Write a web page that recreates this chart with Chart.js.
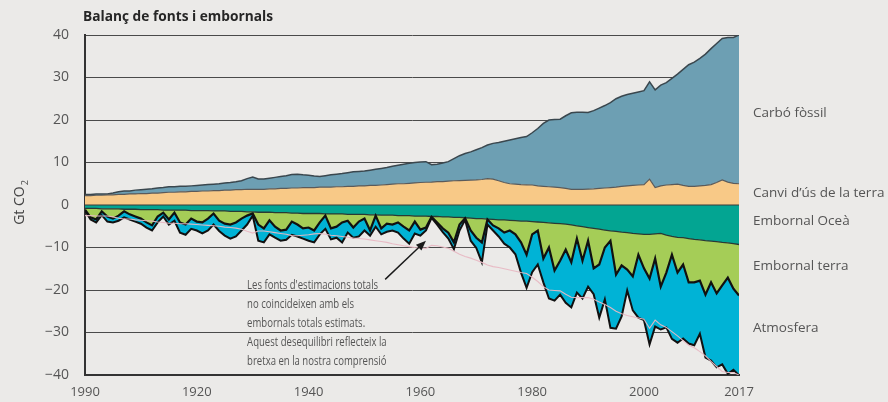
<!DOCTYPE html>
<html>
<head>
<meta charset="utf-8">
<script src="https://cdn.jsdelivr.net/npm/chart.js@4"></script>
<style>
  html, body { margin: 0; padding: 0; background: #ebeae8; }
  canvas { display: block; }
</style>
</head>
<body>
<canvas id="chart" width="888" height="402"></canvas>
<script>
// years 1900..2017, one value per year
const years = [];
for (let yr = 1900; yr <= 2017; yr++) years.push(yr);

const xTicks = [1900, 1920, 1940, 1960, 1980, 2000, 2017];
const xTickLabels = ['1990', '1920', '1940', '1960', '1980', '2000', '2017'];

// Gt CO2 per year
const fossil = [
  0.3, 0.3, 0.3, 0.3, 0.2, 0.4, 0.6, 0.8, 0.7, 0.9,
  0.9, 1.0, 1.0, 1.2, 1.2, 1.3, 1.3, 1.3, 1.3, 1.3,
  1.4, 1.4, 1.5, 1.5, 1.6, 1.7, 1.8, 1.85, 2.1, 2.5,
  2.9, 2.4, 2.4, 2.5, 2.7, 2.8, 3.0, 3.2, 3.25, 3.0,
  2.9, 2.7, 2.5, 2.7, 2.9, 2.95, 3.1, 3.2, 3.4, 3.4,
  3.5, 3.6, 3.8, 3.9, 4.0, 4.2, 4.35, 4.6, 4.7, 4.8,
  4.8, 4.85, 4.1, 4.1, 4.4, 4.6, 5.2, 5.85, 6.3, 6.65,
  7.1, 7.5, 7.9, 8.4, 9.0, 9.7, 10.3, 10.7, 11.1, 11.35,
  12.3, 13.5, 14.8, 15.7, 15.9, 16.1, 17.1, 18.0, 18.1, 18.1,
  18.0, 18.4, 18.9, 19.4, 20.0, 20.8, 21.2, 21.5, 21.7, 21.9,
  22.1, 22.9, 23.0, 23.7, 24.1, 25.0, 25.9, 27.3, 28.6, 29.2,
  30.0, 30.9, 32.0, 32.7, 33.3, 34.0, 34.3, 35.0
];
const landUse = [
  2.2, 2.2, 2.3, 2.3, 2.4, 2.4, 2.5, 2.5, 2.6, 2.6,
  2.7, 2.7, 2.8, 2.8, 2.9, 3.0, 3.0, 3.1, 3.1, 3.2,
  3.2, 3.3, 3.3, 3.4, 3.4, 3.5, 3.5, 3.6, 3.6, 3.7,
  3.7, 3.7, 3.7, 3.8, 3.8, 3.9, 3.9, 4.0, 4.0, 4.1,
  4.1, 4.1, 4.2, 4.2, 4.2, 4.3, 4.3, 4.4, 4.4, 4.5,
  4.5, 4.6, 4.6, 4.7, 4.8, 4.9, 5.0, 5.0, 5.1, 5.2,
  5.3, 5.35, 5.4, 5.5, 5.5, 5.6, 5.7, 5.75, 5.8, 5.85,
  5.9, 6.0, 6.2, 6.1, 5.7, 5.3, 5.0, 4.9, 4.8, 4.75,
  4.7, 4.5, 4.4, 4.3, 4.2, 4.1, 3.9, 3.7, 3.7, 3.7,
  3.75, 3.8, 3.9, 4.0, 4.1, 4.2, 4.4, 4.5, 4.6, 4.7,
  4.8, 6.1, 4.1, 4.5, 4.7, 4.8, 4.9, 4.6, 4.4, 4.4,
  4.5, 4.6, 4.8, 5.3, 5.9, 5.4, 5.1, 5.0
];
const oceanSink = [
  0.8, 0.8, 0.8, 0.9, 0.9, 0.9, 0.9, 1.0, 1.0, 1.0,
  1.1, 1.1, 1.1, 1.1, 1.2, 1.2, 1.2, 1.2, 1.2, 1.3,
  1.3, 1.3, 1.3, 1.4, 1.4, 1.4, 1.5, 1.5, 1.5, 1.6,
  1.6, 1.7, 1.7, 1.7, 1.8, 1.8, 1.8, 1.9, 1.9, 2.0,
  2.0, 2.0, 2.0, 2.1, 2.1, 2.1, 2.1, 2.2, 2.2, 2.2,
  2.2, 2.3, 2.3, 2.4, 2.4, 2.4, 2.5, 2.5, 2.5, 2.6,
  2.6, 2.6, 2.7, 2.7, 2.8, 2.8, 2.9, 2.9, 3.0, 3.1,
  3.2, 3.2, 3.3, 3.4, 3.5, 3.5, 3.6, 3.7, 3.8, 3.8,
  3.9, 4.0, 4.1, 4.2, 4.3, 4.4, 4.5, 4.7, 4.9, 5.1,
  5.3, 5.5, 5.7, 5.9, 6.1, 6.2, 6.4, 6.5, 6.7, 6.8,
  6.9, 6.9, 6.8, 6.7, 7.1, 7.4, 7.6, 7.7, 7.9, 8.1,
  8.2, 8.4, 8.5, 8.6, 8.8, 8.9, 9.1, 9.3
];
const landSink = [
  0.3, 2.1, 2.6, 0.6, 1.8, 2.3, 1.6, 0.5, 1.2, 1.7,
  2.1, 3.0, 3.7, 1.6, 0.6, 2.2, 0.6, 2.9, 3.4, 1.9,
  2.6, 2.8, 1.9, 0.6, 2.3, 3.0, 3.1, 2.6, 1.7, 0.9,
  0.4, 2.9, 3.8, 1.9, 3.3, 4.2, 4.0, 2.0, 2.7, 3.5,
  3.3, 4.0, 2.1, 0.4, 3.4, 3.0, 2.0, 1.5, 3.1, 1.7,
  1.0, 3.7, 0.2, 3.1, 2.0, 2.2, 1.6, 2.6, 3.5, 1.3,
  3.2, 2.7, 0.1, 1.4, 2.7, 3.7, 5.9, 1.7, 0.1, 2.9,
  4.5, 5.6, 0.1, 1.4, 2.0, 3.0, 2.4, 3.2, 5.0, 7.9,
  3.0, 2.0, 8.5, 5.8, 11.1, 8.7, 6.0, 8.8, 3.0, 8.0,
  3.1, 9.4, 8.3, 4.1, 2.3, 10.2, 7.8, 8.7, 10.1, 4.9,
  8.0, 10.4, 5.8, 12.5, 8.8, 4.3, 8.3, 6.3, 10.3, 10.1,
  9.6, 12.7, 9.7, 12.2, 10.1, 8.2, 10.6, 12.0
];
const atmosphere = [
  0.2, 0.5, 0.7, 0.9, 1.2, 0.9, 1.2, 1.4, 1.2, 1.2,
  1.2, 1.2, 1.2, 1.4, 0.9, 1.2, 1.9, 2.4, 2.4, 2.4,
  2.1, 2.6, 2.8, 2.6, 2.4, 2.8, 3.3, 3.3, 2.8, 2.1,
  0.5, 3.8, 3.3, 3.3, 2.6, 2.4, 2.4, 3.1, 2.8, 2.4,
  3.1, 2.8, 2.8, 3.1, 2.6, 2.6, 4.7, 2.8, 2.4, 3.5,
  2.8, 1.2, 2.6, 1.4, 1.9, 1.4, 2.4, 2.8, 3.1, 2.8,
  1.4, 0.7, 0.2, 0.5, 0.9, 1.4, 1.6, 1.4, 0.4, 2.4,
  2.4, 4.7, 1.2, 1.2, 1.9, 2.6, 4.0, 4.7, 7.1, 7.8,
  8.9, 8.0, 5.6, 12.0, 7.1, 8.0, 12.5, 10.6, 12.7, 8.9,
  10.8, 6.1, 12.5, 12.2, 20.5, 12.7, 12.0, 4.9, 8.0, 14.8,
  12.2, 15.5, 16.0, 10.1, 12.9, 19.8, 16.5, 17.4, 14.4, 14.8,
  12.5, 14.8, 18.4, 17.4, 18.6, 22.6, 19.1, 18.8
];

const seriesNames = ['Carbó fòssil', 'Canvi d’ús de la terra', 'Embornal Oceà', 'Embornal terra', 'Atmosfera'];
const chartTitle = 'Balanç de fonts i embornals';
const noteLines = [
  'Les fonts d\'estimacions totals',
  'no coincideixen amb els',
  'embornals totals estimats.',
  'Aquest desequilibri reflecteix la',
  'bretxa en la nostra comprensió'
];

// stacked boundaries: sources above zero, sinks below
const lucTop = landUse.slice();
const fossilTop = landUse.map((v, i) => v + fossil[i]);
const oceanBot = oceanSink.map(v => -v);
const landBot = oceanSink.map((v, i) => -(v + landSink[i]));
const atmBot = oceanSink.map((v, i) => -(v + landSink[i] + atmosphere[i]));
const sourcesMirror = fossilTop.map(v => -v);
const zeroLine = years.map(() => 0);

const pts = arr => arr.map((v, i) => ({ x: years[i], y: v }));

const BG = '#ebeae8';
const TXT = '#555';

const decor = {
  id: 'decor',
  beforeDraw(chart) {
    const ctx = chart.ctx;
    ctx.save();
    ctx.fillStyle = BG;
    ctx.fillRect(0, 0, chart.width, chart.height);
    ctx.restore();
  },
  afterDraw(chart) {
    const { ctx, chartArea: a } = chart;
    const x = chart.scales.x, y = chart.scales.y;
    ctx.save();

    // title
    ctx.fillStyle = '#262626';
    ctx.font = 'bold 14.5px "Open Sans"';
    ctx.textAlign = 'left';
    ctx.textBaseline = 'middle';
    ctx.fillText(chartTitle, a.left - 2, 17, 190);

    // axis title  Gt CO2
    ctx.save();
    ctx.translate(20, 203);
    ctx.rotate(-Math.PI / 2);
    ctx.fillStyle = '#444';
    ctx.font = '14px "Open Sans"';
    const main = 'Gt CO';
    const w1 = ctx.measureText(main).width;
    ctx.font = '9px "Open Sans"';
    const w2 = ctx.measureText('2').width;
    ctx.font = '14px "Open Sans"';
    ctx.textAlign = 'left';
    ctx.fillText(main, -(w1 + w2) / 2, 0);
    ctx.font = '9px "Open Sans"';
    ctx.fillText('2', -(w1 + w2) / 2 + w1 + 1, 5);
    ctx.restore();

    // series labels at right
    const labelVals = [21.6, 2.8, -3.8, -14.4, -29];
    ctx.fillStyle = TXT;
    ctx.font = '13.5px "Open Sans"';
    ctx.textAlign = 'left';
    ctx.textBaseline = 'middle';
    seriesNames.forEach((s, i) => {
      ctx.fillText(s, a.right + 14, y.getPixelForValue(labelVals[i]), 134);
    });

    // note (condensed)
    ctx.font = '13px "Open Sans"';
    const sx = 131 / ctx.measureText(noteLines[0]).width;
    const nx = x.getPixelForValue(1929);
    const ny = y.getPixelForValue(-18.9);
    noteLines.forEach((line, i) => {
      ctx.save();
      ctx.translate(nx, ny + i * 18.9);
      ctx.scale(sx, 1);
      ctx.fillText(line, 0, 0);
      ctx.restore();
    });

    // arrow
    const x0 = x.getPixelForValue(1953.7), y0 = y.getPixelForValue(-17.5);
    const x1 = x.getPixelForValue(1961.0), y1 = y.getPixelForValue(-8.4);
    const ang = Math.atan2(y1 - y0, x1 - x0);
    ctx.strokeStyle = '#1a1a1a';
    ctx.fillStyle = '#1a1a1a';
    ctx.lineWidth = 1.4;
    ctx.beginPath();
    ctx.moveTo(x0, y0);
    ctx.lineTo(x1 - 6 * Math.cos(ang), y1 - 6 * Math.sin(ang));
    ctx.stroke();
    ctx.beginPath();
    ctx.moveTo(x1, y1);
    ctx.lineTo(x1 - 10 * Math.cos(ang) + 4 * Math.sin(ang), y1 - 10 * Math.sin(ang) - 4 * Math.cos(ang));
    ctx.lineTo(x1 - 10 * Math.cos(ang) - 4 * Math.sin(ang), y1 - 10 * Math.sin(ang) + 4 * Math.cos(ang));
    ctx.closePath();
    ctx.fill();

    ctx.restore();
  }
};

const line = (data, fill, bg, border, width, order) => ({
  data: pts(data), fill, backgroundColor: bg, borderColor: border,
  borderWidth: width, pointRadius: 0, tension: 0, order
});

new Chart(document.getElementById('chart'), {
  type: 'line',
  data: {
    datasets: [
      line(lucTop, 'origin', '#f8c987', '#5a5a5a', 1.2, 5),          // 0
      line(fossilTop, 0, '#6d9fb3', '#3a474e', 1.5, 5),              // 1
      line(oceanBot, 'origin', '#03a592', '#2a3a35', 1.3, 5),        // 2
      line(landBot, 2, '#a5cd57', '#111', 2.2, 4),                   // 3
      line(atmBot, 3, '#00b3d6', '#111', 2, 4),                      // 4
      line(zeroLine, false, 'transparent', '#3a3a3a', 1.2, 3),       // 5
      line(sourcesMirror, false, 'transparent', 'rgba(232,184,195,0.95)', 1.1, 1) // 6
    ]
  },
  options: {
    responsive: false,
    animation: false,
    layout: { padding: { left: 0, right: 149, top: 35, bottom: 0 } },
    plugins: {
      legend: { display: false },
      tooltip: { enabled: false },
      filler: { drawTime: 'beforeDatasetsDraw' }
    },
    scales: {
      x: {
        type: 'linear',
        min: 1900,
        max: 2017,
        grid: { display: false, drawTicks: false },
        border: { color: '#333', width: 2 },
        afterBuildTicks: ax => { ax.ticks = xTicks.map(v => ({ value: v })); },
        afterFit: ax => { ax.height = 27; },
        ticks: {
          autoSkip: false,
          maxRotation: 0,
          padding: 9,
          color: TXT,
          font: { family: '"Open Sans"', size: 13 },
          callback: (v, i) => xTickLabels[i]
        }
      },
      y: {
        min: -40,
        max: 40,
        afterFit: ax => { ax.width = 85; },
        grid: { color: '#4a4a4a', lineWidth: 1, drawTicks: false },
        border: { color: '#333', width: 2 },
        ticks: {
          stepSize: 10,
          padding: 16,
          color: TXT,
          font: { family: '"Open Sans"', size: 14 },
          callback: v => (v < 0 ? '\u2212' + Math.abs(v) : String(v))
        }
      }
    }
  },
  plugins: [decor]
});
</script>
</body>
</html>
